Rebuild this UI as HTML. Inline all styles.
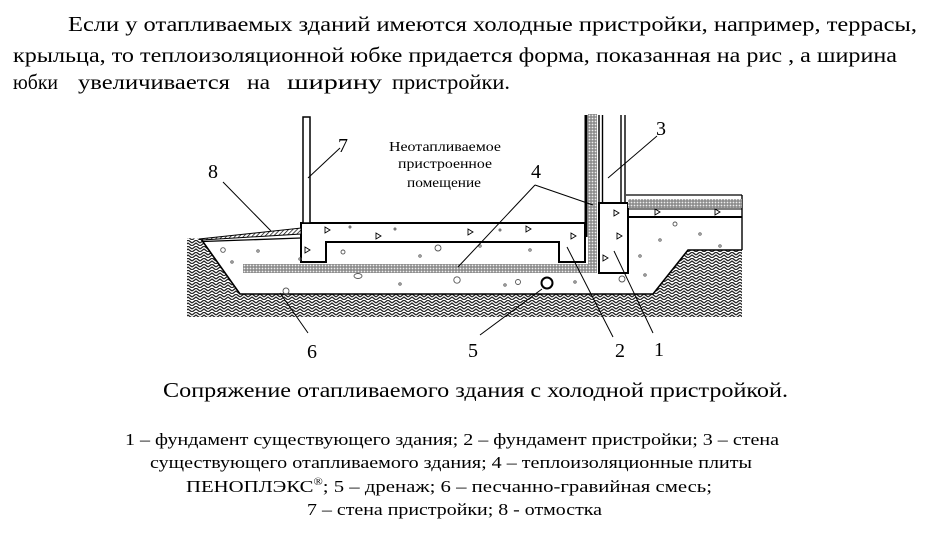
<!DOCTYPE html>
<html><head><meta charset="utf-8"><style>
html,body{margin:0;padding:0;background:#fff;}
svg{display:block;}
text{font-family:"Liberation Serif","Noto Serif CJK SC",serif;fill:#000;}
</style></head><body>
<svg width="939" height="535" viewBox="0 0 939 535" xmlns="http://www.w3.org/2000/svg">
<defs>
<pattern id="hb" width="8" height="6" patternUnits="userSpaceOnUse">
<rect width="8" height="6" fill="#fff"/>
<path d="M0,3 L4,0 L8,3 M0,6 L4,3 L8,6" stroke="#222" stroke-width="1.3" fill="none"/>
</pattern>
<pattern id="ins" width="3" height="3" patternUnits="userSpaceOnUse">
<rect width="3" height="3" fill="#8c8c8c"/><circle cx="1.5" cy="1.5" r="0.9" fill="#eee"/>
</pattern>
<pattern id="ot" width="3" height="3" patternUnits="userSpaceOnUse" patternTransform="rotate(45)">
<rect width="3" height="3" fill="#fff"/><line x1="0" y1="0" x2="0" y2="3" stroke="#000" stroke-width="1.4"/>
</pattern>
</defs>

<!-- top paragraph -->
<text x="68" y="31" font-size="21" textLength="849" lengthAdjust="spacingAndGlyphs">Если у отапливаемых зданий имеются холодные пристройки, например, террасы,</text>
<text x="13" y="62" font-size="21" textLength="884" lengthAdjust="spacingAndGlyphs">крыльца, то теплоизоляционной юбке придается форма, показанная на рис , а ширина</text>
<text x="13" y="89" font-size="21" textLength="45" lengthAdjust="spacingAndGlyphs">юбки</text>
<text x="78" y="89" font-size="21" textLength="152" lengthAdjust="spacingAndGlyphs">увеличивается</text>
<text x="247" y="89" font-size="21" textLength="23" lengthAdjust="spacingAndGlyphs">на</text>
<text x="287" y="89" font-size="21" textLength="95" lengthAdjust="spacingAndGlyphs">ширину</text>
<text x="392" y="89" font-size="21" textLength="118" lengthAdjust="spacingAndGlyphs">пристройки.</text>

<!-- ground hatch -->
<polygon points="187,238 201,239 240,294 653,294 688,250 742,250 742,317 187,317" fill="url(#hb)"/>
<polyline points="201,239 240,294 653,294 688,250 742,250" fill="none" stroke="#000" stroke-width="1.6"/>
<line x1="742" y1="195" x2="742" y2="250" stroke="#000" stroke-width="1.4"/>

<!-- insulation -->
<rect x="243" y="264" width="354" height="9" fill="url(#ins)"/>
<rect x="588" y="114" width="9" height="159" fill="url(#ins)"/>
<line x1="586" y1="115" x2="586" y2="237" stroke="#000" stroke-width="3"/>

<!-- slab / foundation of annex (2) -->
<path d="M301,223 L585,223 L585,262 L559,262 L559,242 L326,242 L326,262 L301,262 Z" fill="#fff" stroke="#000" stroke-width="2"/>

<!-- wall 7 -->
<rect x="303" y="117" width="7" height="106" fill="#fff" stroke="#000" stroke-width="1.5"/>

<!-- wall 3 -->
<g stroke="#000" stroke-width="1.4">
<line x1="599" y1="115" x2="599" y2="203"/>
<line x1="602.5" y1="115" x2="602.5" y2="203"/>
<line x1="621" y1="115" x2="621" y2="203"/>
<line x1="625" y1="115" x2="625" y2="203"/>
</g>
<!-- foundation 1 -->
<rect x="599" y="203" width="29" height="70" fill="#fff" stroke="#000" stroke-width="2"/>

<!-- right floor -->
<line x1="626" y1="195" x2="742" y2="195" stroke="#000" stroke-width="1.2"/>
<rect x="628" y="199" width="114" height="9" fill="url(#ins)"/>
<line x1="628" y1="209" x2="742" y2="209" stroke="#000" stroke-width="1"/>
<line x1="628" y1="217" x2="742" y2="217" stroke="#000" stroke-width="2"/>

<!-- otmostka 8 -->
<polygon points="199,239 301,228 301,234 202,240" fill="url(#ot)" stroke="#000" stroke-width="1"/>
<line x1="203" y1="241.5" x2="301" y2="238" stroke="#000" stroke-width="1.3"/>

<!-- pipe 5 -->
<circle cx="547" cy="283" r="5.5" fill="#fff" stroke="#000" stroke-width="2"/>

<!-- concrete triangles -->
<g fill="none" stroke="#000" stroke-width="0.9">
<polygon points="325,227 330,230 325,233"/>
<polygon points="376,233 381,236 376,239"/>
<polygon points="468,229 473,232 468,235"/>
<polygon points="305,247 310,250 305,253"/>
<polygon points="526,226 531,229 526,232"/>
<polygon points="571,233 576,236 571,239"/>
<polygon points="614,210 619,213 614,216"/>
<polygon points="617,233 622,236 617,239"/>
<polygon points="603,255 608,258 603,261"/>
<polygon points="655,209 660,212 655,215"/>
<polygon points="715,209 720,212 715,215"/>
</g>
<!-- gravel -->
<g fill="none" stroke="#555" stroke-width="0.9">
<circle cx="223" cy="250" r="2.3"/>
<circle cx="343" cy="252" r="2"/>
<circle cx="438" cy="248" r="3"/>
<circle cx="286" cy="291" r="3"/>
<circle cx="457" cy="280" r="3.2"/>
<ellipse cx="358" cy="276" rx="4" ry="2.5"/>
<circle cx="518" cy="282" r="2.5"/>
<circle cx="622" cy="279" r="3"/>
<circle cx="675" cy="224" r="2"/>
<circle cx="232" cy="262" r="1.2"/>
<circle cx="258" cy="251" r="1.2"/>
<circle cx="300" cy="259" r="1.2"/>
<circle cx="400" cy="284" r="1.2"/>
<circle cx="480" cy="246" r="1.2"/>
<circle cx="505" cy="285" r="1.2"/>
<circle cx="575" cy="282" r="1.2"/>
<circle cx="660" cy="240" r="1.2"/>
<circle cx="700" cy="234" r="1.2"/>
<circle cx="720" cy="246" r="1.2"/>
<circle cx="640" cy="256" r="1.2"/>
<circle cx="645" cy="275" r="1.2"/>
<circle cx="530" cy="250" r="1.2"/>
<circle cx="420" cy="256" r="1.2"/>
<circle cx="395" cy="229" r="1"/>
<circle cx="350" cy="227" r="1"/>
<circle cx="500" cy="230" r="1"/>
</g>

<!-- leaders -->
<g stroke="#000" stroke-width="1">
<line x1="308" y1="178" x2="340" y2="148"/>
<line x1="223" y1="182" x2="271" y2="231"/>
<line x1="280" y1="293" x2="308" y2="333"/>
<line x1="480" y1="335" x2="542" y2="289"/>
<line x1="613" y1="337" x2="567" y2="247"/>
<line x1="653" y1="333" x2="614" y2="251"/>
<line x1="657" y1="136" x2="608" y2="178"/>
<line x1="535" y1="185" x2="593" y2="205"/>
<line x1="535" y1="185" x2="458" y2="267"/>
</g>

<!-- labels -->
<g font-size="20">
<text x="338" y="152">7</text>
<text x="208" y="178">8</text>
<text x="307" y="358">6</text>
<text x="468" y="357">5</text>
<text x="615" y="357">2</text>
<text x="654" y="356">1</text>
<text x="656" y="135">3</text>
<text x="531" y="178">4</text>
</g>

<!-- room label -->
<text x="389" y="151" font-size="14" textLength="112" lengthAdjust="spacingAndGlyphs">Неотапливаемое</text>
<text x="398" y="168" font-size="14" textLength="94" lengthAdjust="spacingAndGlyphs">пристроенное</text>
<text x="407" y="187" font-size="14" textLength="74" lengthAdjust="spacingAndGlyphs">помещение</text>

<!-- caption -->
<text x="163" y="397" font-size="21" textLength="625" lengthAdjust="spacingAndGlyphs">Сопряжение отапливаемого здания с холодной пристройкой.</text>

<!-- legend -->
<g font-size="17">
<text x="125" y="445" textLength="654" lengthAdjust="spacingAndGlyphs">1 – фундамент существующего здания; 2 – фундамент пристройки; 3 – стена</text>
<text x="150" y="468" textLength="602" lengthAdjust="spacingAndGlyphs">существующего отапливаемого здания; 4 – теплоизоляционные плиты</text>
<text x="186" y="492" textLength="526" lengthAdjust="spacingAndGlyphs">ПЕНОПЛЭКС<tspan font-size="10" dy="-7">®</tspan><tspan dy="7">; 5 – дренаж; 6 – песчанно-гравийная смесь;</tspan></text>
<text x="307" y="515" textLength="295" lengthAdjust="spacingAndGlyphs">7 – стена пристройки; 8 - отмостка</text>
</g>
</svg>
</body></html>
